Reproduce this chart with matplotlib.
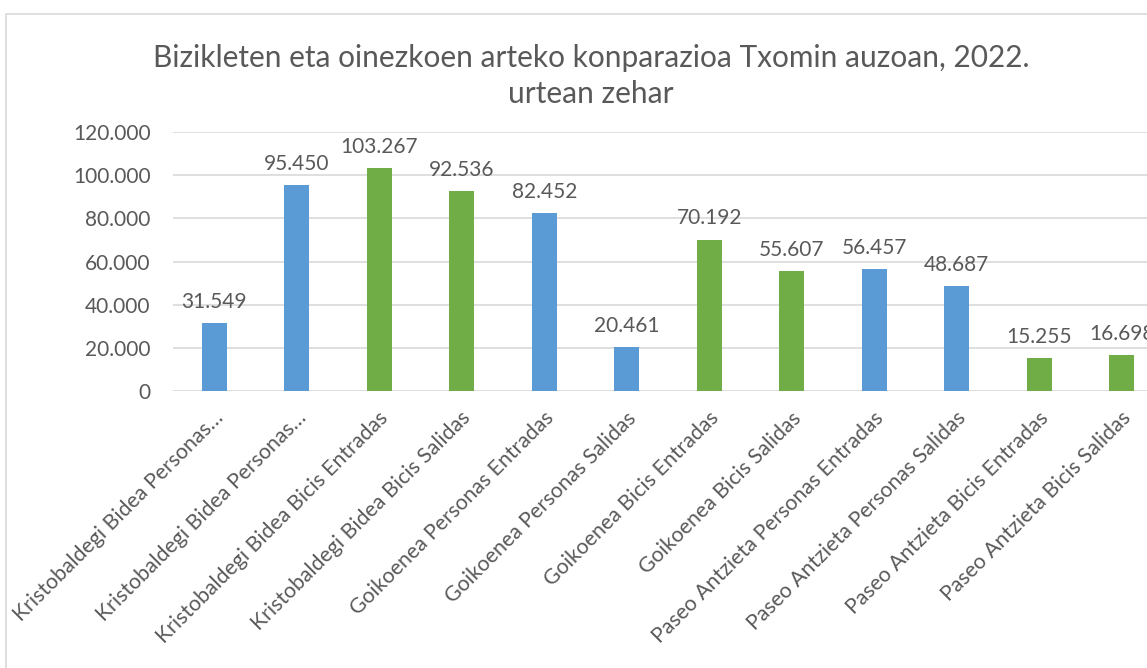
import matplotlib
matplotlib.use("Agg")
import matplotlib.pyplot as plt
from matplotlib.patches import Rectangle
from matplotlib.ticker import FuncFormatter
from matplotlib.transforms import ScaledTranslation

categories = [
    "Kristobaldegi Bidea Personas…",
    "Kristobaldegi Bidea Personas…",
    "Kristobaldegi Bidea Bicis Entradas",
    "Kristobaldegi Bidea Bicis Salidas",
    "Goikoenea Personas Entradas",
    "Goikoenea Personas Salidas",
    "Goikoenea Bicis Entradas",
    "Goikoenea Bicis Salidas",
    "Paseo Antzieta Personas Entradas",
    "Paseo Antzieta Personas Salidas",
    "Paseo Antzieta Bicis Entradas",
    "Paseo Antzieta Bicis Salidas",
]
values = [31549, 95450, 103267, 92536, 82452, 20461, 70192, 55607, 56457, 48687, 15255, 16698]
kinds = ["Personas", "Personas", "Bicis", "Bicis", "Personas", "Personas",
         "Bicis", "Bicis", "Personas", "Personas", "Bicis", "Bicis"]
yticks = [0, 20000, 40000, 60000, 80000, 100000, 120000]
title = "Bizikleten eta oinezkoen arteko konparazioa Txomin auzoan, 2022.\nurtean zehar"

color_map = {"Personas": "#5B9BD5", "Bicis": "#70AD47"}
text_color = "#595959"
grid_color = "#D9D9D9"

plt.rcParams['font.family'] = ['Lato', 'DejaVu Sans']

W, H = 1147, 668
fig = plt.figure(figsize=(W / 100, H / 100), dpi=100)

# chart border
fig.patches.append(Rectangle((6 / W, -0.05), 1.2, (H - 14) / H + 0.05,
                             transform=fig.transFigure, fill=False,
                             edgecolor=grid_color, linewidth=1.2))

left, right, bottom, top = 173, 1163, 391, 132
ax = fig.add_axes([left / W, (H - bottom) / H, (right - left) / W, (bottom - top) / H])

x = list(range(len(values)))
ax.bar(x, values, width=0.30, color=[color_map[k] for k in kinds], zorder=3)

ax.set_xlim(-0.5, len(values) - 0.5)
ax.set_ylim(0, 120000)
ax.set_yticks(yticks)
ax.yaxis.set_major_formatter(FuncFormatter(lambda v, p: f"{int(v):,}".replace(",", ".")))
ax.grid(axis='y', color=grid_color, linewidth=1.2, zorder=0)
for s in ax.spines.values():
    s.set_visible(False)
ax.tick_params(axis='both', length=0, colors=text_color, labelsize=15)
ax.tick_params(axis='y', pad=16)

ax.set_xticks(x)
ax.set_xticklabels(categories, rotation=45, ha='right', rotation_mode='anchor',
                   fontsize=15.3, color=text_color)
shift = ScaledTranslation(-1 / 100, -12 / 100, fig.dpi_scale_trans)
for lbl in ax.get_xticklabels():
    lbl.set_transform(lbl.get_transform() + shift)

for xi, v in zip(x, values):
    ax.annotate(f"{v:,}".replace(",", "."), (xi, v), xytext=(0, 8),
                textcoords='offset points', ha='center', va='bottom',
                fontsize=15, color=text_color)

fig.text(591 / W, (H - 76) / H, title, ha='center', va='center',
         fontsize=21.5, color=text_color, linespacing=1.35)

fig.savefig("out.png", dpi=100)
